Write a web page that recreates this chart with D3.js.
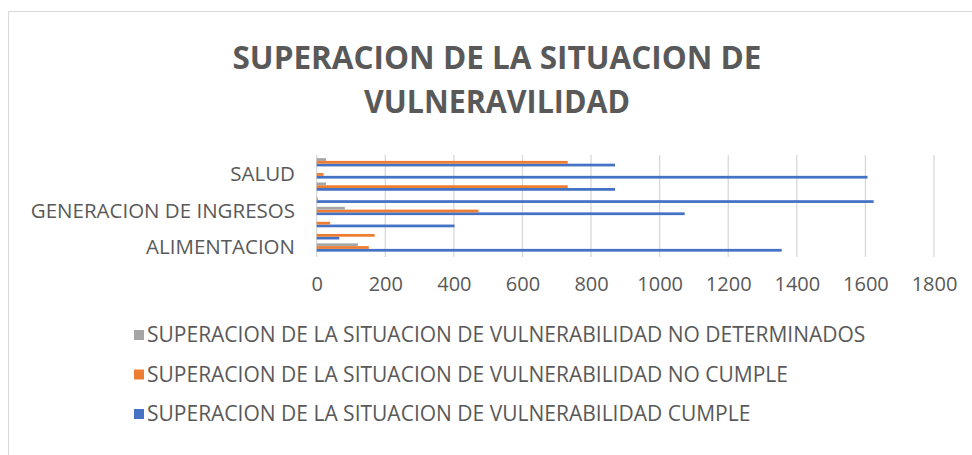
<!DOCTYPE html>
<html>
<head>
  <meta charset="utf-8">
  <title>Superacion de la situacion de vulnerabilidad</title>
  <script src="https://d3js.org/d3.v7.min.js"></script>
  <style>
    body { margin: 0; background: #fff; }
    text { font-family: "Open Sans", "Liberation Sans", sans-serif; fill: #595959; }
  </style>
</head>
<body>
  <svg id="chart" width="972" height="455"></svg>

  <script>
    // categories, bottom to top (only every 3rd label is shown, like the original)
    const categories = [
      "ALIMENTACION",
      "ATENCION PSICOSOCIAL",
      "EDUCACION",
      "GENERACION DE INGRESOS",
      "IDENTIFICACION",
      "REUNIFICACION FAMILIAR",
      "SALUD",
      "VIVIENDA"
    ];

    const cumple       = [1356, 66, 402, 1073, 1624, 870, 1606, 870];
    const noCumple     = [152, 169, 39, 472, 3, 732, 20, 732];
    const noDeterminado = [120, 0, 0, 82, 0, 27, 0, 27];

    const seriesNames = [
      "SUPERACION DE LA SITUACION DE VULNERABILIDAD CUMPLE",
      "SUPERACION DE LA SITUACION DE VULNERABILIDAD NO CUMPLE",
      "SUPERACION DE LA SITUACION DE VULNERABILIDAD NO DETERMINADOS"
    ];
    const seriesColors = ["#4472c4", "#ed7d31", "#a5a5a5"];
    const xTicks = [0, 200, 400, 600, 800, 1000, 1200, 1400, 1600, 1800];
    const titleLines = ["SUPERACION DE LA SITUACION DE", "VULNERAVILIDAD"];

    const seriesValues = [cumple, noCumple, noDeterminado];

    const svg = d3.select("#chart");

    // chart area border (runs past the right and bottom edge)
    svg.append("rect")
      .attr("x", 8.5).attr("y", 11.5)
      .attr("width", 1000).attr("height", 500)
      .attr("fill", "none")
      .attr("stroke", "#d9d9d9");

    // title
    svg.selectAll(".title")
      .data(titleLines)
      .enter().append("text")
      .attr("class", "title")
      .attr("x", 497)
      .attr("y", (d, i) => 69 + i * 44)
      .attr("text-anchor", "middle")
      .attr("textLength", (d, i) => i === 0 ? 529 : 266)
      .attr("lengthAdjust", "spacingAndGlyphs")
      .style("font-size", "33px")
      .style("font-weight", "bold")
      .text(d => d);

    // scales
    const xScale = d3.scaleLinear()
      .domain([0, 1800])
      .range([316.7, 934]);

    const yScale = d3.scaleBand()
      .domain(categories)
      .range([253.6, 156.2])
      .paddingInner(0.32)
      .paddingOuter(0.16);

    // series inside a band: first series at the bottom
    const ySub = d3.scaleBand()
      .domain([2, 1, 0])
      .range([0, yScale.bandwidth()]);

    // vertical gridlines
    svg.append("g")
      .selectAll("line")
      .data(xTicks)
      .enter().append("line")
      .attr("x1", d => xScale(d)).attr("x2", d => xScale(d))
      .attr("y1", 155).attr("y2", 257)
      .attr("stroke", "#d9d9d9")
      .attr("stroke-width", 1.3);

    // bars
    const groups = svg.append("g")
      .selectAll("g")
      .data(seriesValues)
      .enter().append("g")
      .attr("fill", (d, i) => seriesColors[i]);

    groups.each(function(vals, s) {
      d3.select(this).selectAll("rect")
        .data(vals)
        .enter().append("rect")
        .attr("x", xScale(0))
        .attr("y", (d, i) => yScale(categories[i]) + ySub(s))
        .attr("width", d => xScale(d) - xScale(0))
        .attr("height", ySub.bandwidth());
    });

    // x-axis labels
    const xAxis = svg.append("g")
      .attr("transform", "translate(0,277)")
      .call(d3.axisBottom(xScale).tickValues(xTicks).tickSize(0).tickPadding(0).tickFormat(d3.format("d")));
    xAxis.select(".domain").remove();
    xAxis.selectAll("text")
      .attr("dy", "0.71em")
      .style("font-size", "20px")
      .style("font-family", "'Open Sans', sans-serif")
      .attr("fill", "#595959");

    // category labels (every third one)
    const yAxis = svg.append("g")
      .attr("transform", "translate(295,0)")
      .call(d3.axisLeft(yScale)
        .tickValues(categories.filter((d, i) => i % 3 === 0))
        .tickSize(0).tickPadding(0));
    yAxis.select(".domain").remove();
    yAxis.selectAll("text")
      .style("font-size", "20.5px")
      .style("font-family", "'Open Sans', sans-serif")
      .attr("fill", "#595959");

    // legend, reversed order
    const legendOrder = [2, 1, 0];
    const legend = svg.append("g")
      .selectAll("g")
      .data(legendOrder)
      .enter().append("g")
      .attr("transform", (d, i) => `translate(134, ${335 + i * 39.5})`);

    legend.append("rect")
      .attr("x", 0).attr("y", -5)
      .attr("width", 10).attr("height", 10)
      .attr("fill", d => seriesColors[d]);

    legend.append("text")
      .attr("x", 13)
      .attr("y", 0)
      .attr("dy", "0.35em")
      .style("font-size", "21px")
      .text(d => seriesNames[d]);
  </script>
</body>
</html>
